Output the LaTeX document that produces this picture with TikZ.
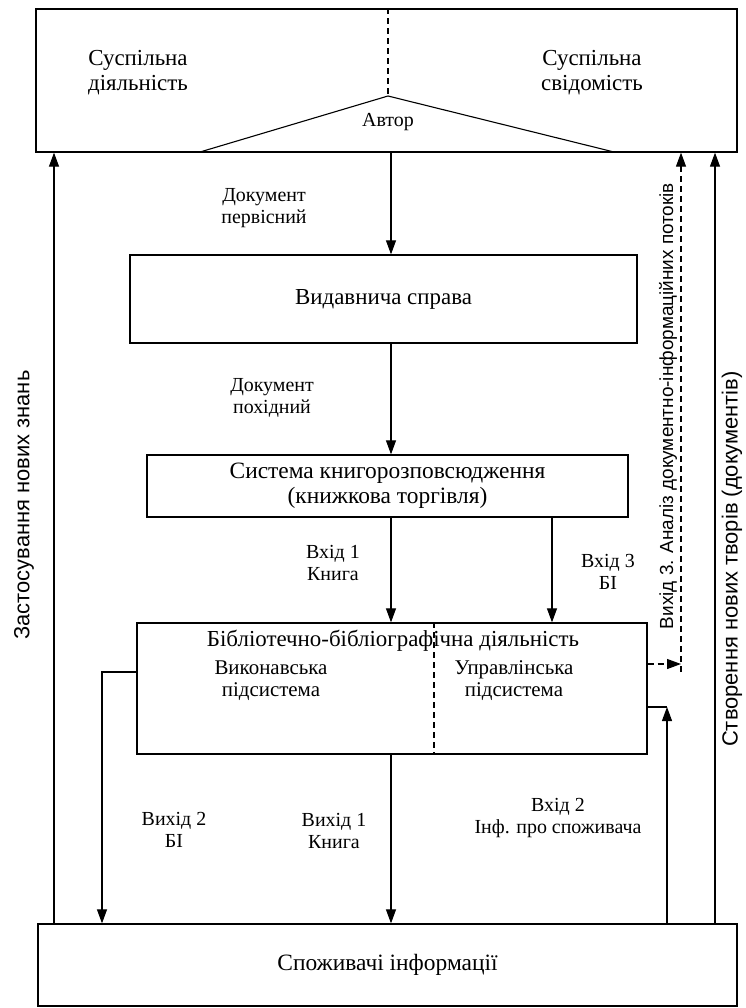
\documentclass[tikz,border=0pt]{standalone}
\usepackage{fontspec}
\setmainfont{Liberation Serif}
\setsansfont{Liberation Sans}
\usetikzlibrary{arrows.meta,positioning,calc}

\begin{document}
\begin{tikzpicture}[x=1bp, y=-1bp, line width=1.1bp,
      box/.style={draw, line width=1.3bp, inner sep=0pt, align=center},
      big/.style={align=center, font=\fontsize{23}{25}\selectfont},
      lbl/.style={align=center, font=\fontsize{20}{22}\selectfont},
      side/.style={rotate=90, font=\sffamily\fontsize{#1}{#1}\selectfont},
      arr/.style={-{Triangle[length=14bp,width=10bp]}},
      dsh/.style={dash pattern=on 6bp off 4bp}]
    \useasboundingbox (0,0) rectangle (746,1008);
    % x positions of the connectors
    \coordinate (mid) at (391,0);
    \coordinate (in3) at (552,0);
    \coordinate (apply) at (54,0);
    \coordinate (create) at (715,0);
    \coordinate (lstep) at (102,672);
    \coordinate (rstep) at (667,707);
    \coordinate (dstep) at (681,664);
    \coordinate (apex) at (388,96);

    \node (society) [box, minimum width=701bp, minimum height=143bp] at (386.5,80.5) {};
    \node (activity) [big] at (138,73) {Суспільна\\діяльність};
    \node (mind) [big] at (592,73) {Суспільна\\свідомість};
    \draw (200,152) -- (apex) -- (614,152);
    \draw[dsh] (society.north -| apex) -- (apex);
    \node (author) [lbl] at (388,122) {Автор};

    \node (publishing) [box, minimum width=507bp, minimum height=88bp,
      font=\fontsize{23}{25}\selectfont] at (383.5,299) {Видавнича справа};
    \node (trade) [box, minimum width=481bp, minimum height=62bp,
      font=\fontsize{23.5}{25}\selectfont] at (387.5,486)
      {Система книгорозповсюдження\\(книжкова торгівля)};
    \node (library) [box, minimum width=510bp, minimum height=131bp] at (392,688.5) {};
    \node (libtitle) [big] at (393,641) {Бібліотечно-бібліографічна діяльність};
    \node (exec) [lbl, font=\fontsize{21}{22}\selectfont] at (271,681) {Виконавська\\підсистема};
    \node (manage) [lbl, font=\fontsize{21}{22}\selectfont] at (514,681) {Управлінська\\підсистема};
    \draw[dsh] (library.north -| 434,0) -- (library.south -| 434,0);
    \node (consumers) [box, minimum width=699bp, minimum height=82bp,
      font=\fontsize{23.5}{25}\selectfont] at (387.5,965) {Споживачі інформації};

    % main flow
    \draw[arr] (society.south -| mid) -- (publishing.north -| mid);
    \draw[arr] (publishing.south -| mid) -- (trade.north -| mid);
    \draw[arr] (trade.south -| mid) -- (library.north -| mid);
    \draw[arr] (trade.south -| in3) -- (library.north -| in3);
    \draw[arr] (library.south -| mid) -- (consumers.north -| mid);
    \draw[arr] (library.west |- lstep) -| (consumers.north -| lstep);
    \draw[arr] (consumers.north -| rstep) -- (rstep);
    \draw (rstep) -- (library.east |- rstep);
    \draw[arr] (consumers.north -| apply) -- (society.south -| apply);
    \draw[arr] (consumers.north -| create) -- (society.south -| create);
    \draw[arr, dsh] (library.east |- dstep) -- (dstep);
    \draw[arr, dsh] ($(dstep)+(0,8)$) -- (society.south -| dstep);

    \node (doc1) [lbl] at (264,208) {Документ\\первісний};
    \node (doc2) [lbl] at (272,398) {Документ\\похідний};
    \node (in1) [lbl] at (333,563) {Вхід 1\\Книга};
    \node (in3lbl) [lbl] at (608,572) {Вхід 3\\БІ};
    \node (out2) [lbl] at (174,830) {Вихід 2\\БІ};
    \node (out1) [lbl] at (334,831) {Вихід 1\\Книга};
    \node (in2) [lbl] at (558,818) {Вхід 2\\Інф. про споживача};

    \node (applylbl) [side=22] at (24,505) {Застосування нових знань};
    \node (out3lbl) [side=19] at (668,406) {Вихід 3. Аналіз документно-інформаційних потоків};
    \node (createlbl) [side=22] at (732,559) {Створення нових творів (документів)};
\end{tikzpicture}
\end{document}
